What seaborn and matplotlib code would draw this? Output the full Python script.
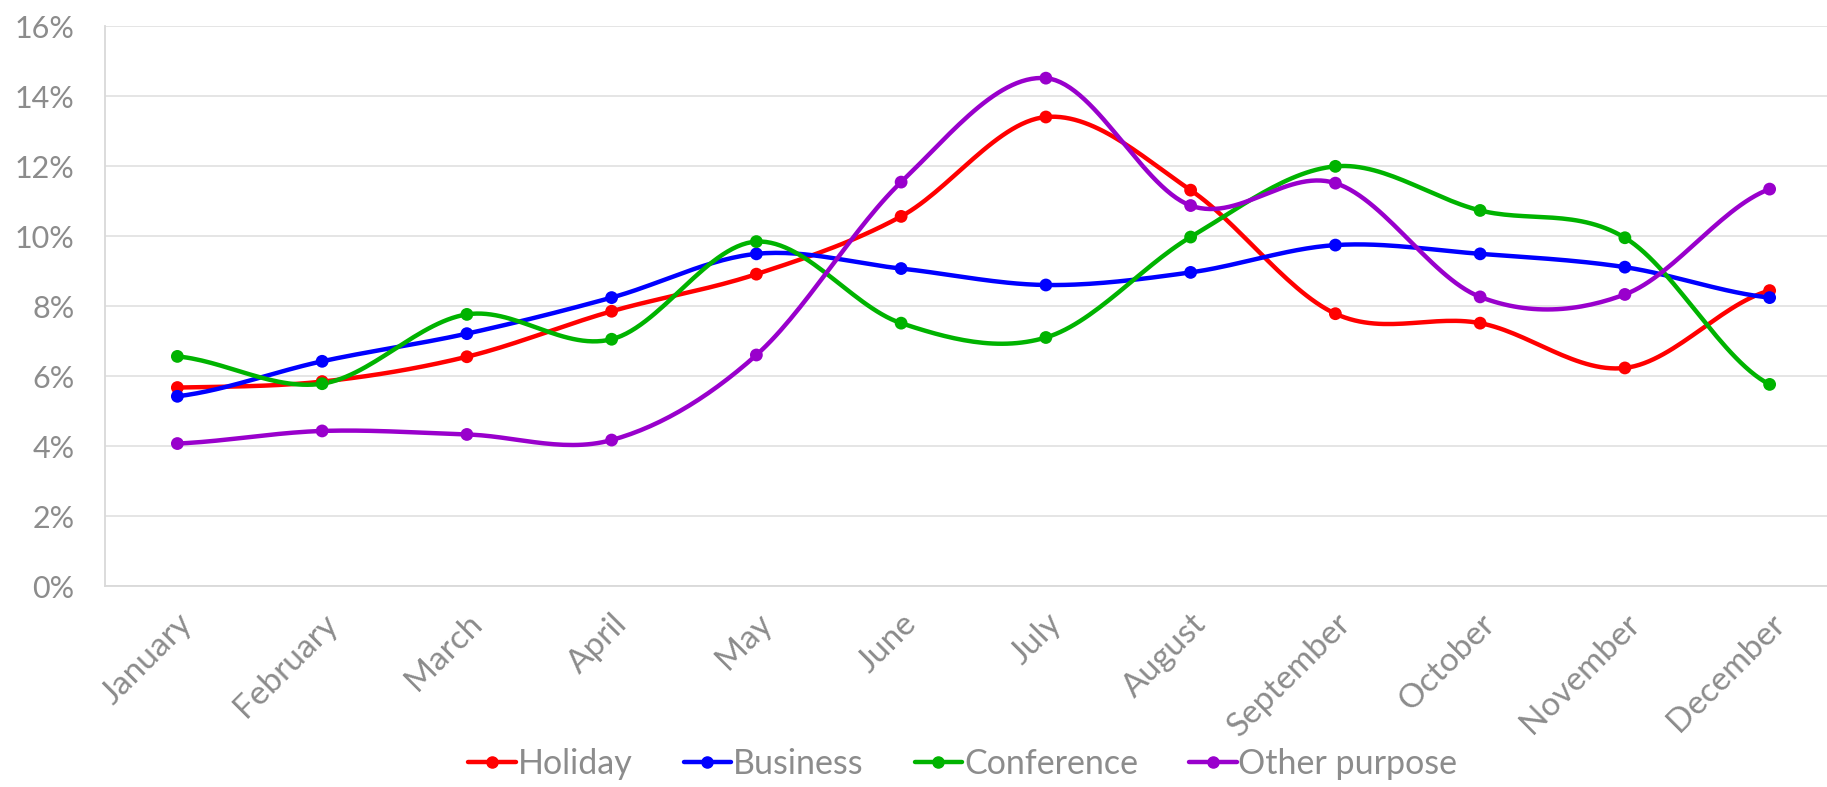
import matplotlib
matplotlib.use("Agg")
import matplotlib.pyplot as plt
import numpy as np
import pandas as pd
import seaborn as sns
from matplotlib.lines import Line2D
from matplotlib.ticker import FuncFormatter

# ---------------------------------------------------------------------------
# Data (percent of yearly trips per month)
# ---------------------------------------------------------------------------

MONTHS = ["January", "February", "March", "April", "May", "June", "July",
          "August", "September", "October", "November", "December"]

HOLIDAY = [5.67, 5.84, 6.55, 7.85, 8.91, 10.56, 13.40, 11.31, 7.78, 7.51, 6.23, 8.44]
BUSINESS = [5.42, 6.42, 7.21, 8.24, 9.49, 9.07, 8.60, 8.96, 9.74, 9.49, 9.11, 8.24]
CONFERENCE = [6.56, 5.78, 7.76, 7.05, 9.84, 7.51, 7.10, 9.97, 11.99, 10.73, 9.95, 5.76]
OTHER = [4.07, 4.43, 4.33, 4.17, 6.60, 11.54, 14.51, 10.87, 11.51, 8.26, 8.33, 11.34]

SERIES = {
    "Holiday": (HOLIDAY, "#ff0000"),
    "Business": (BUSINESS, "#0000ff"),
    "Conference": (CONFERENCE, "#00b300"),
    "Other purpose": (OTHER, "#9900cc"),
}

GREY = "#8c8c8c"


def smooth(y, steps=30):
    """Catmull-Rom style smoothing (like Excel's smoothed line)."""
    y = np.asarray(y, dtype=float)
    x = np.arange(len(y), dtype=float)
    xs, ys = [], []
    for i in range(len(y) - 1):
        p0 = y[i - 1] if i > 0 else y[i]
        p3 = y[i + 2] if i + 2 < len(y) else y[i + 1]
        p1, p2 = y[i], y[i + 1]
        c1 = p1 + (p2 - p0) / 6
        c2 = p2 - (p3 - p1) / 6
        t = np.linspace(0, 1, steps, endpoint=False)
        b = ((1 - t) ** 3 * p1 + 3 * (1 - t) ** 2 * t * c1
             + 3 * (1 - t) * t ** 2 * c2 + t ** 3 * p2)
        xs.append(x[i] + t)
        ys.append(b)
    xs.append([x[-1]])
    ys.append([y[-1]])
    return np.concatenate(xs), np.concatenate(ys)


sns.set_style("white")
plt.rcParams["font.family"] = ["Lato", "DejaVu Sans"]

fig = plt.figure(figsize=(18.27, 7.87), dpi=100)
ax = fig.add_axes([105 / 1827, 1 - 586 / 787, 1737 / 1827, 560 / 787])

handles = []
for name, (vals, color) in SERIES.items():
    sx, sy = smooth(vals)
    curve = pd.DataFrame({"x": sx, "y": sy})
    sns.lineplot(data=curve, x="x", y="y", color=color, linewidth=3.2,
                 ax=ax, zorder=3, sort=False)
    pts = pd.DataFrame({"x": np.arange(len(vals)), "y": vals})
    sns.scatterplot(data=pts, x="x", y="y", color=color, s=85,
                    edgecolor="none", ax=ax, zorder=4)
    handles.append(Line2D([0], [0], color=color, linewidth=3.2, marker="o",
                          markersize=8, label=name))

ax.set_xlim(-0.5, 11.5)
ax.set_ylim(0, 16)
ax.set_yticks(np.arange(0, 17, 2))
ax.yaxis.set_major_formatter(FuncFormatter(lambda v, _: f"{v:.0f}%"))
ax.set_xticks(range(len(MONTHS)))
ax.set_xticklabels(MONTHS, rotation=45, ha="right", rotation_mode="anchor")
ax.set_xlabel("")
ax.set_ylabel("")

ax.grid(axis="y", color="#e3e3e3", linewidth=1.3)
ax.set_axisbelow(True)
for side in ["top", "right"]:
    ax.spines[side].set_visible(False)
ax.spines["left"].set_color("#d9d9d9")
ax.spines["bottom"].set_color("#d9d9d9")
ax.spines["left"].set_linewidth(1.3)
ax.spines["bottom"].set_linewidth(1.3)

ax.tick_params(axis="y", length=0, labelsize=22, labelcolor=GREY, pad=22)
ax.tick_params(axis="x", length=0, labelsize=24, labelcolor=GREY, pad=16)

fig.legend(handles=handles, loc="lower center", bbox_to_anchor=(0.527, -0.03),
           ncol=4, frameon=False, fontsize=24.5, labelcolor=GREY,
           handlelength=1.4, handletextpad=0.05, columnspacing=1.5)

fig.savefig("out.png", dpi=100)
